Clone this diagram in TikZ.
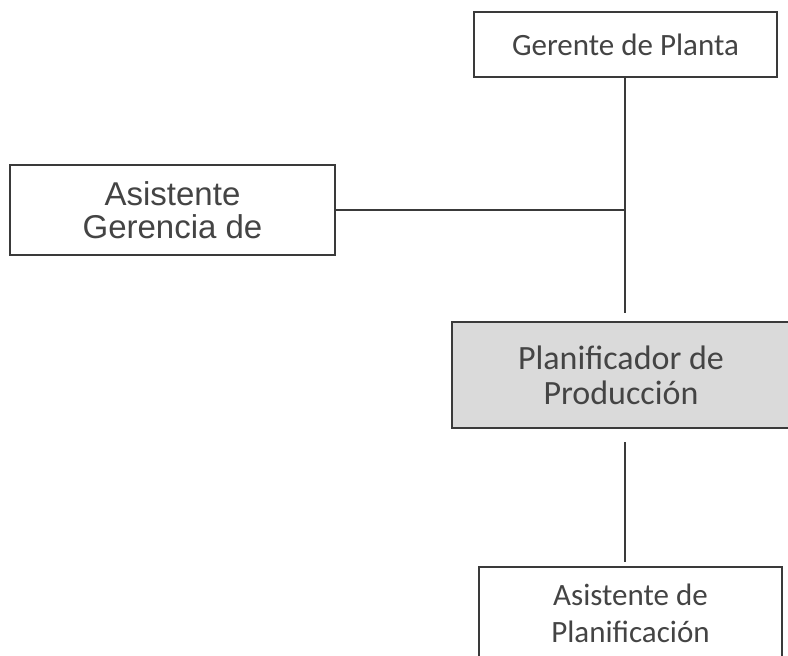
\documentclass[tikz,border=0pt]{standalone}
\usepackage{fontspec}
\setmainfont{Carlito}
\newfontfamily\arialfont{Liberation Sans}
\usepackage{tikz}
\usetikzlibrary{positioning}
\usepackage{xcolor}
\definecolor{linegray}{HTML}{3A3A3A}
\definecolor{textgray}{HTML}{444444}
\definecolor{boxgray}{HTML}{DADADA}

\begin{document}
\begin{tikzpicture}[x=1pt,y=-1pt,
  box/.style={draw=linegray,line width=1.3pt,fill=white,align=center,
    text=textgray,inner sep=0pt},
  conn/.style={draw=linegray,line width=1.3pt}
]
\useasboundingbox (0,0) rectangle (788,656);
\clip (0,0) rectangle (788,656);
\node[box,minimum width=303pt,minimum height=65pt,
  font=\fontsize{31}{34}\selectfont] (gerente) at (625.5,44.5)
  {Gerente de Planta};
\node[box,minimum width=325pt,minimum height=90pt,
  font=\arialfont\fontsize{33}{33}\selectfont] (asisger) at (172.5,210)
  {Asistente\\Gerencia de};
\node[box,fill=boxgray,minimum width=338pt,minimum height=106pt,
  font=\fontsize{34}{35}\selectfont] (planif) at (621,375)
  {Planificador de\\Producci\'on};
\node[box,minimum width=303pt,minimum height=93pt,
  font=\fontsize{31}{37}\selectfont] (asisplan) at (630.5,613.5)
  {Asistente de\\Planificaci\'on};
% junction points on the main line
\coordinate (endtop) at (625,313);
\coordinate (mid) at (asisger.east -| endtop);
\coordinate (startlow) at (625,442);
\coordinate (endlow) at (625,562);
\draw[conn] (gerente.south -| endtop) -- (endtop);
\draw[conn] (asisger.east) -- (mid);
\draw[conn] (startlow) -- (endlow);
\end{tikzpicture}
\end{document}
